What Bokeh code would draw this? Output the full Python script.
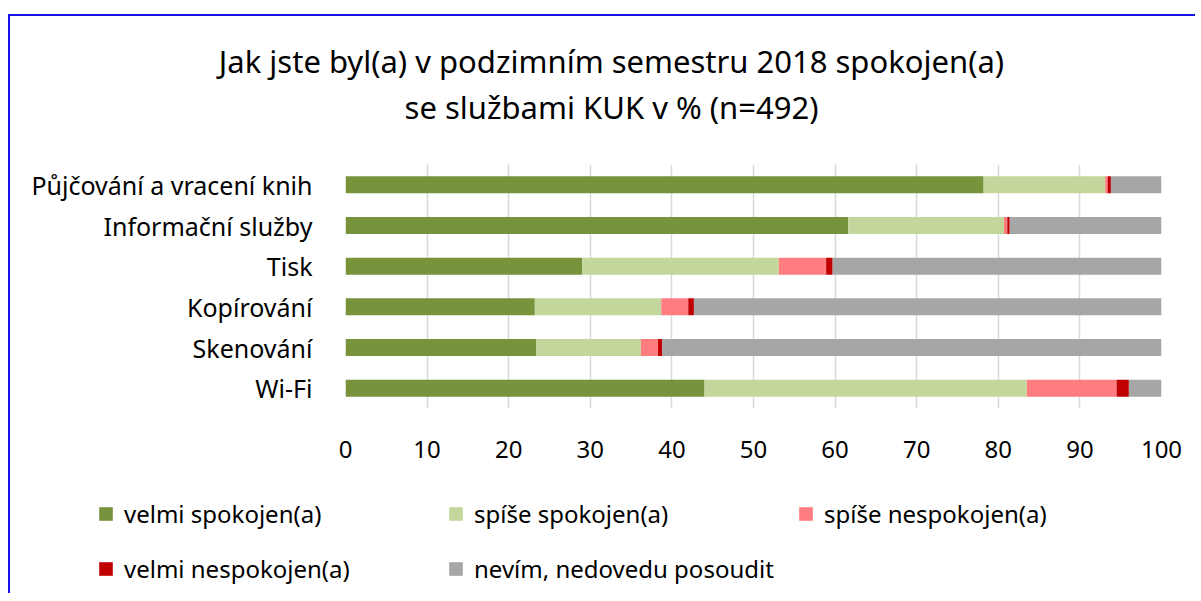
from bokeh.plotting import figure
from bokeh.layouts import column
from bokeh.models import Legend, LegendItem, Label, ColumnDataSource, FixedTicker
from bokeh.embed import file_html
from bokeh.resources import INLINE

categories = ["Půjčování a vracení knih", "Informační služby", "Tisk",
              "Kopírování", "Skenování", "Wi-Fi"]
series_names = ["velmi spokojen(a)", "spíše spokojen(a)", "spíše nespokojen(a)",
                "velmi nespokojen(a)", "nevím, nedovedu posoudit"]
velmi_spokojen = [78.2, 61.6, 29.0, 23.2, 23.4, 44.0]
spise_spokojen = [14.9, 19.1, 24.1, 15.5, 12.8, 39.5]
spise_nespokojen = [0.3, 0.4, 5.8, 3.3, 2.1, 11.0]
velmi_nespokojen = [0.4, 0.3, 0.8, 0.7, 0.5, 1.5]
nevim = [6.2, 18.6, 40.3, 57.3, 61.2, 4.0]
colors = ["#77933c", "#c3d69b", "#ff7c80", "#c00000", "#a6a6a6"]
x_ticks = [0, 10, 20, 30, 40, 50, 60, 70, 80, 90, 100]
title_lines = ["Jak jste byl(a) v podzimním semestru 2018 spokojen(a)",
               "se službami KUK v % (n=492)"]

FONT = "Noto Sans"
W = 1185


def bare(fig):
    fig.outline_line_color = None
    fig.axis.visible = False
    fig.grid.visible = False
    return fig


# ---- title strip ----
pt = bare(figure(width=W, height=143, x_range=(0, 1), y_range=(0, 1),
                 output_backend="svg", toolbar_location=None, frame_align=False,
                 min_border=0, min_border_left=0, min_border_right=0,
                 min_border_top=0, min_border_bottom=0))
for line, yy in zip(title_lines, [99, 53]):
    pt.add_layout(Label(x=601, y=yy, x_units="screen", y_units="screen", text=line,
                        text_align="center", text_baseline="middle", text_font=FONT,
                        text_font_size="31px", text_color="#000000"))

# ---- main chart ----
keys = ["s1", "s2", "s3", "s4", "s5"]
source = ColumnDataSource(dict(cat=categories, s1=velmi_spokojen, s2=spise_spokojen,
                               s3=spise_nespokojen, s4=velmi_nespokojen, s5=nevim))

p = figure(width=W, height=334, y_range=list(reversed(categories)), x_range=(0, 100),
           output_backend="svg", toolbar_location=None, frame_align=False,
           min_border_left=335, min_border_right=34, min_border_top=5, min_border_bottom=85)
renderers = p.hbar_stack(keys, y="cat", height=0.42, color=colors, line_color=None,
                         source=source)
p.outline_line_color = None
p.ygrid.grid_line_color = None
p.xgrid.grid_line_color = "#d9d9d9"
p.xgrid.grid_line_width = 1.5
p.xaxis.ticker = FixedTicker(ticks=x_ticks)
for ax in (p.xaxis[0], p.yaxis[0]):
    ax.axis_line_color = None
    ax.major_tick_line_color = None
    ax.minor_tick_line_color = None
    ax.major_tick_out = 0
    ax.major_tick_in = 0
    ax.major_label_text_font = FONT
    ax.major_label_text_color = "#000000"
p.xaxis.major_label_text_font_size = "24px"
p.yaxis.major_label_text_font_size = "25px"
p.xaxis.major_label_standoff = 32
p.yaxis.major_label_standoff = 33

# ---- legend strip ----
pl = bare(figure(width=W, height=100, x_range=(0, 1), y_range=(0, 1),
                 output_backend="svg", toolbar_location=None, frame_align=False,
                 min_border=0, min_border_left=0, min_border_right=0,
                 min_border_top=0, min_border_bottom=0))
nan = float("nan")
leg_renderers = [pl.hbar(y=[nan], left=[nan], right=[nan], height=0.5, color=c,
                         line_color=None) for c in colors]
items = [LegendItem(label=n, renderers=[r]) for n, r in zip(series_names, leg_renderers)]
legend = Legend(items=items, ncols=3, orientation="horizontal", location=(87, 8),
                padding=0, margin=0, spacing=22, glyph_width=17, glyph_height=17,
                label_standoff=10, label_width=301, label_height=33, label_text_font=FONT,
                label_text_font_size="24px", label_text_color="#000000",
                border_line_color=None, background_fill_alpha=0)
pl.add_layout(legend, "center")

layout = column(pt, p, pl, spacing=0)
layout.styles = {"border-top": "2px solid #1414e6", "border-left": "2px solid #1414e6",
                 "margin-top": "14px", "margin-left": "8px"}

open("out.html", "w").write(file_html(layout, INLINE))
